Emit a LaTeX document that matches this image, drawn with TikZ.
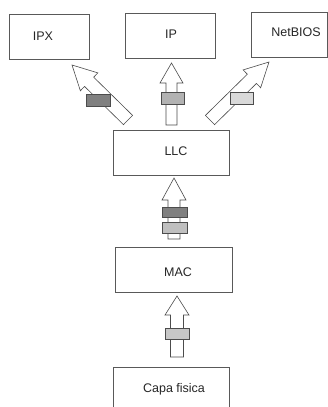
\documentclass[tikz,border=0pt]{standalone}
\usepackage{fontspec}
\setmainfont{Liberation Sans}
\usetikzlibrary{calc}
\tikzset{
  box/.style={draw=black!65, line width=0.7pt, fill=white, inner sep=0pt},
  lbl/.style={font=\fontsize{12.5}{14}\selectfont, text=black!85, inner sep=0pt},
  arr/.style={draw=black!70, line width=0.6pt, fill=white, line join=miter},
  band/.style={draw=black!70, line width=0.6pt},
}
% block arrow: #1 tail, #2 tip, #3 shaft half width, #4 head half width, #5 head length
\newcommand\blockarr[5]{%
  \coordinate (#1hb) at ($(#2)!#5!(#1)$);
  \draw[arr] ($(#1)!#3!90:(#2)$) -- ($(#1hb)!#3!90:(#2)$) -- ($(#1hb)!#4!90:(#2)$)
    -- (#2) -- ($(#1hb)!#4!-90:(#2)$) -- ($(#1hb)!#3!-90:(#2)$) -- ($(#1)!#3!-90:(#2)$) -- cycle;
}
\begin{document}
\begin{tikzpicture}[x=1pt,y=-1pt]
\useasboundingbox (0,0) rectangle (328,407);
\clip (0,0) rectangle (328,407);
\fill[white] (0,0) rectangle (328,407);
% boxes
\node[box, minimum width=80pt, minimum height=45pt] (ipx) at (49,36.5) {};
\node[box, minimum width=90pt, minimum height=45pt] (ip) at (170,35.5) {};
\node[box, minimum width=76.5pt, minimum height=45pt] (netbios) at (289.25,34.5) {};
\node[box, minimum width=116pt, minimum height=45pt] (llc) at (171,152.5) {};
\node[box, minimum width=117pt, minimum height=45pt] (mac) at (173.5,269.5) {};
\node[box, minimum width=116pt, minimum height=46pt] (capa) at (171,390) {};
% labels
\node[lbl] (tipx) at (43,36) {IPX};
\node[lbl] (tip) at (171,34) {IP};
\node[lbl] (tnet) at (296,32) {NetBIOS};
\node[lbl] (tllc) at (176,151) {LLC};
\node[lbl] (tmac) at (178,272) {MAC};
\node[lbl] (tcapa) at (174,389) {Capa fisica};
% arrow end points
\coordinate (aLt) at (128,120); \coordinate (aLp) at (72,65);
\coordinate (aCt) at (171.5,125); \coordinate (aCp) at (171.5,63);
\coordinate (aRt) at (210,120); \coordinate (aRp) at (269,62);
\coordinate (aMt) at (174,239); \coordinate (aMp) at (174,178);
\coordinate (aFt) at (177,357); \coordinate (aFp) at (177,296);
\blockarr{aLt}{aLp}{6.5pt}{12.5pt}{24pt}
\blockarr{aCt}{aCp}{5.5pt}{11.5pt}{20pt}
\blockarr{aRt}{aRp}{6.5pt}{12.5pt}{24pt}
\blockarr{aMt}{aMp}{6pt}{12pt}{22pt}
\blockarr{aFt}{aFp}{6.5pt}{12pt}{19pt}
% bands
\draw[band, fill=black!50] (86,94) rectangle (110,106);
\draw[band, fill=black!30] (161,92) rectangle (184,104);
\draw[band, fill=black!15] (230,92) rectangle (253,104);
\draw[band, fill=black!50] (162,207) rectangle (187,217);
\draw[band, fill=black!25] (162,222) rectangle (187,233);
\draw[band, fill=black!22] (165,328) rectangle (189,339);
\end{tikzpicture}
\end{document}
